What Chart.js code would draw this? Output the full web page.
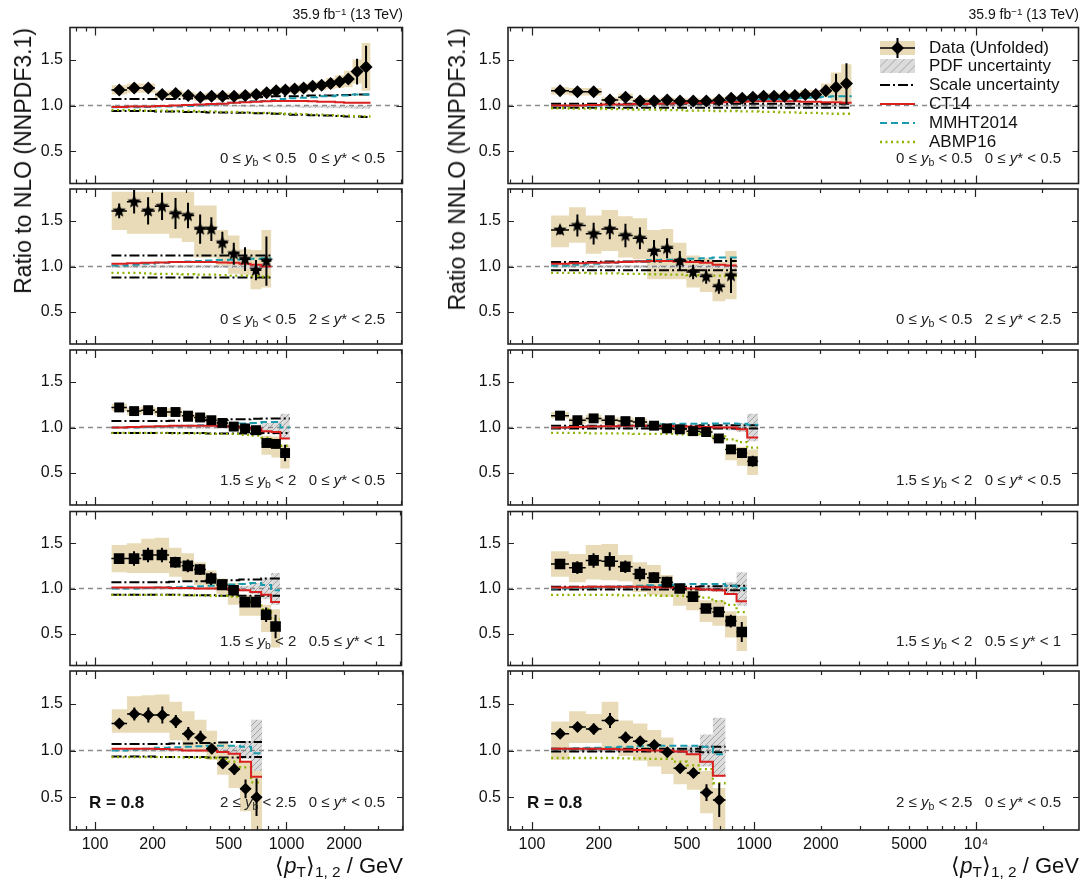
<!DOCTYPE html>
<html>
<head>
<meta charset="utf-8">
<script src="https://cdn.jsdelivr.net/npm/chart.js@4.4.0/dist/chart.umd.min.js"></script>
<style>
  body { margin: 0; background: #fff; }
  #page { position: relative; width: 1084px; height: 887px; overflow: hidden; font-family: "Liberation Sans", Arial, sans-serif; }
  #page canvas { position: absolute; }
  .txt { position: absolute; white-space: nowrap; color: #111; }
  .sb { font-size: 0.7em; vertical-align: -0.25em; }
  .sp { font-size: 0.7em; vertical-align: 0.45em; }
</style>
</head>
<body>
<div id="page"></div>
<script>
// bin edges of <pT>1,2 in GeV (shared by all panels)
const binEdges = [122, 147, 175, 206, 245, 285, 331, 382, 434, 498, 572, 653, 745, 840, 936, 1049, 1169, 1303, 1452, 1618, 1803, 2009, 2225, 2480, 2763];

// panels row by row: [left NLO, right NNLO]
const nBins = [24, 24, 13, 13, 15, 15, 14, 14, 12, 12];
const ybLo = ['0', '0', '1.5', '1.5', '2'];
const ybHi = ['0.5', '0.5', '2', '2', '2.5'];
const ysLo = ['0', '2', '0', '0.5', '0'];
const ysHi = ['0.5', '2.5', '0.5', '1', '0.5'];
const markerKind = ['diamond', 'star', 'square', 'square', 'diamond'];

const xTicksLeft = [100, 200, 500, 1000, 2000];
const xTicksRight = [100, 200, 500, 1000, 2000, 5000, 10000];
const yTicks = [0.5, 1.0, 1.5];

const ratio = [
  [1.17,1.19,1.19,1.12,1.13,1.11,1.09,1.10,1.10,1.10,1.11,1.12,1.14,1.16,1.17,1.18,1.19,1.21,1.22,1.24,1.26,1.29,1.37,1.42],
  [1.16,1.15,1.15,1.06,1.09,1.05,1.05,1.06,1.05,1.05,1.05,1.06,1.08,1.08,1.09,1.10,1.10,1.10,1.11,1.12,1.12,1.16,1.20,1.24],
  [1.61,1.71,1.61,1.66,1.58,1.56,1.41,1.41,1.26,1.14,1.08,0.96,1.06],
  [1.40,1.45,1.36,1.41,1.34,1.31,1.17,1.20,1.06,0.94,0.89,0.78,0.90],
  [1.22,1.18,1.19,1.17,1.17,1.13,1.11,1.08,1.05,1.01,0.99,0.97,0.83,0.82,0.72],
  [1.13,1.08,1.10,1.08,1.07,1.06,1.02,0.99,0.98,0.96,0.95,0.88,0.76,0.72,0.63],
  [1.33,1.33,1.37,1.37,1.29,1.25,1.21,1.11,1.04,0.98,0.85,0.85,0.71,0.58],
  [1.27,1.23,1.31,1.30,1.24,1.16,1.12,1.07,1.00,0.91,0.78,0.74,0.64,0.52],
  [1.29,1.39,1.38,1.38,1.31,1.18,1.14,1.02,0.86,0.80,0.59,0.50],
  [1.18,1.25,1.23,1.32,1.14,1.10,1.06,0.98,0.81,0.76,0.55,0.47]
];
const statErr = [
  [0.01,0.01,0.01,0.01,0.01,0.01,0.01,0.01,0.01,0.01,0.01,0.01,0.01,0.01,0.01,0.01,0.01,0.015,0.02,0.02,0.03,0.05,0.14,0.23],
  [0.01,0.01,0.01,0.01,0.01,0.01,0.01,0.01,0.01,0.01,0.01,0.01,0.01,0.01,0.01,0.01,0.01,0.015,0.02,0.02,0.03,0.06,0.145,0.22],
  [0.08,0.13,0.15,0.15,0.17,0.14,0.16,0.13,0.12,0.12,0.13,0.11,0.27],
  [0.05,0.12,0.12,0.11,0.13,0.12,0.12,0.11,0.11,0.08,0.08,0.08,0.19],
  [0.02,0.02,0.02,0.02,0.02,0.02,0.02,0.02,0.02,0.02,0.02,0.03,0.04,0.05,0.09],
  [0.02,0.02,0.02,0.02,0.02,0.02,0.02,0.02,0.02,0.02,0.02,0.03,0.03,0.04,0.06],
  [0.03,0.08,0.08,0.08,0.06,0.07,0.06,0.07,0.05,0.05,0.05,0.05,0.08,0.13],
  [0.03,0.07,0.08,0.10,0.07,0.08,0.06,0.06,0.04,0.04,0.05,0.05,0.07,0.11],
  [0.02,0.07,0.08,0.09,0.07,0.07,0.07,0.05,0.05,0.06,0.10,0.20],
  [0.02,0.05,0.06,0.08,0.06,0.05,0.05,0.04,0.05,0.05,0.09,0.18]
];
// total uncertainty box of the unfolded data
const bandLo = [
  [1.12,1.14,1.14,1.08,1.09,1.07,1.05,1.06,1.06,1.06,1.07,1.08,1.10,1.12,1.13,1.13,1.14,1.16,1.17,1.18,1.19,1.20,1.24,1.16],
  [1.12,1.11,1.11,1.03,1.05,1.02,1.02,1.03,1.02,1.02,1.02,1.03,1.05,1.05,1.06,1.06,1.06,1.06,1.07,1.07,1.07,1.09,1.05,1.03],
  [1.40,1.36,1.36,1.36,1.31,1.27,1.10,1.10,1.01,0.92,0.91,0.75,0.77],
  [1.21,1.26,1.14,1.17,1.10,1.08,0.86,0.86,0.86,0.77,0.72,0.62,0.64],
  [1.18,1.14,1.15,1.13,1.13,1.09,1.07,1.04,1.01,0.97,0.95,0.92,0.70,0.67,0.55],
  [1.10,1.04,1.06,1.04,1.04,1.03,0.99,0.95,0.94,0.93,0.91,0.84,0.64,0.58,0.48],
  [1.18,1.17,1.17,1.17,1.13,1.09,1.04,0.99,0.94,0.82,0.70,0.70,0.52,0.35],
  [1.13,1.07,1.10,1.09,1.08,0.96,0.93,0.91,0.81,0.76,0.63,0.59,0.46,0.31],
  [1.19,1.19,1.19,1.19,1.11,1.01,0.98,0.90,0.74,0.60,0.35,0.10],
  [0.90,1.08,1.08,1.02,0.94,0.89,0.83,0.75,0.64,0.58,0.33,0.14]
];
const bandHi = [
  [1.22,1.24,1.24,1.16,1.17,1.15,1.13,1.14,1.14,1.14,1.15,1.16,1.18,1.20,1.21,1.23,1.24,1.26,1.27,1.30,1.33,1.38,1.50,1.68],
  [1.20,1.19,1.19,1.09,1.13,1.08,1.08,1.09,1.08,1.08,1.08,1.09,1.11,1.11,1.12,1.14,1.14,1.14,1.15,1.17,1.17,1.24,1.36,1.45],
  [1.82,1.82,1.82,1.82,1.82,1.82,1.67,1.67,1.40,1.34,1.19,1.18,1.40],
  [1.56,1.65,1.56,1.62,1.55,1.53,1.40,1.41,1.26,1.12,1.09,1.05,1.17],
  [1.26,1.22,1.23,1.21,1.21,1.17,1.15,1.12,1.09,1.05,1.03,1.01,0.91,0.90,0.81],
  [1.17,1.11,1.14,1.11,1.11,1.10,1.06,1.02,1.01,1.00,0.99,0.92,0.81,0.79,0.76],
  [1.48,1.50,1.55,1.56,1.45,1.39,1.29,1.20,1.11,1.06,0.93,0.92,0.82,0.77],
  [1.41,1.38,1.48,1.49,1.37,1.29,1.26,1.15,1.05,0.99,0.87,0.87,0.75,0.70],
  [1.44,1.58,1.59,1.60,1.52,1.42,1.33,1.21,1.07,0.99,0.89,0.82],
  [1.31,1.42,1.39,1.52,1.32,1.29,1.22,1.14,0.99,0.96,0.78,0.60]
];
const ct14 = [
  [0.985,0.99,0.99,0.995,1.0,1.005,1.01,1.015,1.02,1.03,1.035,1.04,1.045,1.05,1.05,1.05,1.05,1.045,1.04,1.04,1.035,1.03,1.03,1.03],
  [1.0,1.0,1.005,1.01,1.01,1.015,1.02,1.02,1.025,1.03,1.03,1.035,1.04,1.04,1.045,1.045,1.045,1.045,1.045,1.04,1.04,1.035,1.035,1.03],
  [1.03,1.035,1.04,1.045,1.05,1.05,1.05,1.05,1.045,1.04,1.03,1.02,1.0],
  [1.03,1.035,1.04,1.045,1.05,1.055,1.06,1.06,1.055,1.05,1.04,1.02,1.01],
  [1.0,1.005,1.01,1.015,1.02,1.02,1.02,1.02,1.015,1.01,1.0,0.99,0.96,0.95,0.88],
  [1.0,1.005,1.01,1.015,1.02,1.02,1.02,1.02,1.015,1.01,1.005,1.0,1.0,0.98,0.89],
  [1.01,1.01,1.01,1.01,1.005,1.005,1.0,1.0,1.0,0.99,0.98,0.96,0.93,0.85],
  [1.01,1.015,1.02,1.02,1.02,1.02,1.015,1.01,1.005,1.0,0.99,0.98,0.94,0.86],
  [1.02,1.02,1.02,1.015,1.01,1.0,1.0,1.0,0.985,0.965,0.88,0.72],
  [1.02,1.02,1.02,1.015,1.01,1.005,1.0,1.0,0.99,0.96,0.88,0.73]
];
const mmht = [
  [0.98,0.98,0.985,0.99,0.99,0.995,1.0,1.01,1.02,1.03,1.04,1.045,1.05,1.06,1.07,1.08,1.085,1.09,1.10,1.10,1.11,1.11,1.12,1.12],
  [0.995,1.0,1.0,1.0,1.005,1.01,1.015,1.02,1.025,1.03,1.04,1.045,1.05,1.055,1.06,1.065,1.07,1.075,1.08,1.085,1.09,1.095,1.10,1.10],
  [1.01,1.02,1.03,1.04,1.05,1.055,1.06,1.065,1.07,1.075,1.08,1.085,1.09],
  [1.01,1.02,1.03,1.04,1.05,1.06,1.07,1.075,1.08,1.085,1.09,1.10,1.10],
  [1.0,1.0,1.005,1.01,1.015,1.02,1.025,1.03,1.035,1.04,1.045,1.05,1.06,1.06,1.0],
  [1.0,1.005,1.01,1.015,1.02,1.025,1.03,1.035,1.04,1.04,1.045,1.045,1.045,1.04,1.03],
  [1.0,1.0,1.005,1.01,1.015,1.02,1.025,1.03,1.04,1.045,1.05,1.06,1.04,0.98],
  [1.0,1.005,1.01,1.02,1.025,1.03,1.035,1.04,1.045,1.05,1.05,1.05,1.03,1.0],
  [1.0,1.01,1.02,1.03,1.035,1.04,1.045,1.05,1.05,1.05,1.04,0.97],
  [1.02,1.025,1.03,1.035,1.04,1.045,1.05,1.05,1.05,1.05,1.04,0.96]
];
const abmp = [
  [0.95,0.95,0.945,0.945,0.94,0.94,0.935,0.935,0.93,0.93,0.925,0.92,0.92,0.915,0.91,0.91,0.905,0.90,0.90,0.895,0.89,0.89,0.885,0.88],
  [0.97,0.965,0.965,0.96,0.96,0.955,0.955,0.95,0.95,0.945,0.945,0.94,0.94,0.935,0.935,0.93,0.93,0.925,0.925,0.92,0.92,0.915,0.91,0.91],
  [0.93,0.93,0.925,0.92,0.92,0.915,0.91,0.91,0.905,0.90,0.90,0.895,0.89],
  [0.93,0.93,0.925,0.925,0.92,0.92,0.915,0.91,0.91,0.905,0.90,0.90,0.895],
  [0.94,0.94,0.94,0.94,0.935,0.935,0.935,0.93,0.93,0.93,0.92,0.91,0.89,0.84,0.80],
  [0.94,0.94,0.935,0.935,0.935,0.93,0.93,0.93,0.925,0.925,0.92,0.90,0.87,0.84,0.78],
  [0.93,0.93,0.93,0.93,0.93,0.93,0.925,0.92,0.92,0.91,0.89,0.85,0.77,0.66],
  [0.93,0.93,0.93,0.93,0.925,0.925,0.925,0.92,0.92,0.91,0.90,0.86,0.82,0.74],
  [0.93,0.93,0.93,0.93,0.93,0.925,0.925,0.92,0.91,0.88,0.82,0.66],
  [0.92,0.92,0.92,0.92,0.915,0.915,0.91,0.91,0.88,0.84,0.80,0.65]
];
const scaleUp = [
  [1.07,1.07,1.07,1.07,1.07,1.075,1.075,1.08,1.08,1.085,1.09,1.09,1.095,1.10,1.10,1.10,1.105,1.11,1.11,1.11,1.115,1.115,1.12,1.12],
  [1.02,1.02,1.02,1.02,1.02,1.02,1.02,1.02,1.02,1.02,1.02,1.02,1.02,1.02,1.02,1.02,1.02,1.02,1.02,1.02,1.02,1.02,1.02,1.02],
  [1.12,1.12,1.12,1.12,1.12,1.12,1.12,1.12,1.12,1.12,1.12,1.12,1.12],
  [1.05,1.05,1.05,1.055,1.055,1.055,1.055,1.06,1.06,1.06,1.06,1.06,1.06],
  [1.07,1.07,1.07,1.07,1.075,1.075,1.08,1.08,1.085,1.09,1.09,1.095,1.10,1.10,1.10],
  [1.02,1.02,1.02,1.02,1.02,1.02,1.02,1.02,1.02,1.02,1.025,1.025,1.025,1.025,1.025],
  [1.07,1.07,1.07,1.07,1.075,1.08,1.08,1.085,1.09,1.09,1.10,1.10,1.11,1.11],
  [1.02,1.02,1.02,1.02,1.02,1.02,1.02,1.02,1.02,1.02,1.025,1.025,1.03,1.03],
  [1.07,1.07,1.07,1.07,1.075,1.075,1.08,1.08,1.085,1.09,1.09,1.09],
  [1.02,1.02,1.02,1.02,1.02,1.02,1.02,1.02,1.02,1.02,1.04,1.04]
];
const scaleDn = [
  [0.94,0.94,0.94,0.935,0.935,0.93,0.93,0.925,0.925,0.92,0.92,0.915,0.915,0.91,0.905,0.90,0.90,0.895,0.89,0.89,0.885,0.88,0.88,0.875],
  [0.975,0.975,0.975,0.975,0.975,0.975,0.975,0.975,0.975,0.975,0.975,0.975,0.975,0.975,0.975,0.975,0.975,0.975,0.975,0.975,0.975,0.975,0.975,0.975],
  [0.88,0.88,0.88,0.88,0.88,0.88,0.88,0.88,0.88,0.88,0.88,0.88,0.88],
  [0.96,0.96,0.96,0.96,0.96,0.96,0.96,0.96,0.96,0.96,0.96,0.96,0.96],
  [0.94,0.94,0.94,0.94,0.94,0.94,0.94,0.935,0.935,0.935,0.935,0.935,0.94,0.94,0.94],
  [0.99,0.99,0.99,0.99,0.99,0.99,0.99,0.99,0.99,0.99,0.99,0.99,0.99,0.99,0.99],
  [0.93,0.93,0.93,0.93,0.93,0.925,0.925,0.925,0.92,0.92,0.92,0.92,0.92,0.92],
  [0.99,0.99,0.99,0.99,0.99,0.99,0.99,0.99,0.99,0.99,0.99,0.99,0.98,0.98],
  [0.935,0.935,0.935,0.93,0.93,0.93,0.93,0.925,0.925,0.925,0.93,0.93],
  [0.99,0.99,0.99,0.99,0.99,0.99,0.99,0.99,0.99,0.99,0.98,0.98]
];
const pdfLo = [
  [0.99,0.99,0.99,0.99,0.99,0.99,0.99,0.99,0.99,0.99,0.985,0.985,0.985,0.98,0.98,0.98,0.975,0.975,0.975,0.97,0.97,0.97,0.965,0.965],
  [0.99,0.99,0.99,0.99,0.99,0.99,0.99,0.99,0.99,0.99,0.99,0.99,0.99,0.99,0.99,0.985,0.985,0.985,0.985,0.98,0.98,0.98,0.98,0.98],
  [0.985,0.985,0.985,0.985,0.985,0.985,0.985,0.985,0.985,0.985,0.98,0.98,0.975],
  [0.985,0.985,0.985,0.985,0.985,0.985,0.985,0.985,0.985,0.985,0.98,0.98,0.975],
  [0.99,0.99,0.99,0.99,0.99,0.99,0.99,0.99,0.99,0.99,0.98,0.97,0.95,0.92,0.88],
  [0.99,0.99,0.99,0.99,0.99,0.99,0.99,0.99,0.99,0.99,0.985,0.98,0.97,0.95,0.85],
  [0.99,0.99,0.99,0.99,0.99,0.99,0.99,0.99,0.99,0.98,0.97,0.94,0.88,0.82],
  [0.99,0.99,0.99,0.99,0.99,0.99,0.99,0.99,0.99,0.985,0.97,0.96,0.93,0.81],
  [0.99,0.99,0.99,0.99,0.99,0.99,0.99,0.98,0.97,0.95,0.91,0.78],
  [0.99,0.99,0.99,0.99,0.99,0.99,0.99,0.98,0.97,0.95,0.83,0.72]
];
const pdfHi = [
  [1.005,1.005,1.005,1.005,1.005,1.005,1.005,1.005,1.005,1.005,1.005,1.0,1.0,1.0,1.0,1.0,1.0,1.0,1.0,1.0,1.0,1.0,1.0,1.0],
  [1.01,1.01,1.01,1.01,1.01,1.01,1.01,1.01,1.01,1.01,1.01,1.01,1.01,1.01,1.01,1.015,1.015,1.015,1.015,1.02,1.02,1.02,1.02,1.02],
  [1.015,1.015,1.015,1.015,1.015,1.015,1.015,1.015,1.015,1.015,1.02,1.02,1.025],
  [1.015,1.015,1.015,1.015,1.015,1.015,1.015,1.015,1.015,1.015,1.02,1.02,1.025],
  [1.01,1.01,1.01,1.01,1.01,1.01,1.01,1.01,1.01,1.01,1.02,1.03,1.05,1.07,1.15],
  [1.01,1.01,1.01,1.01,1.01,1.01,1.01,1.01,1.01,1.01,1.015,1.02,1.03,1.05,1.15],
  [1.01,1.01,1.01,1.01,1.01,1.01,1.01,1.01,1.01,1.02,1.03,1.06,1.11,1.17],
  [1.01,1.01,1.01,1.01,1.01,1.01,1.01,1.01,1.01,1.015,1.03,1.04,1.07,1.18],
  [1.01,1.01,1.01,1.01,1.01,1.01,1.01,1.02,1.03,1.05,1.10,1.33],
  [1.01,1.01,1.01,1.01,1.01,1.01,1.01,1.02,1.03,1.05,1.17,1.35]
];

// ---- layout ----
const page = document.getElementById('page');
const colL = [70, 508], colR = [403, 1079];
const xMin = [74, 78], xMax = [4060, 29100];
const rowT = [25, 186, 347, 508, 669], rowH = 161;
const TAN = '#e9dbb7', RED = '#d9201f', TEAL = '#1a9bad', GREEN = '#8db300';

// hatch pattern for the PDF uncertainty
const hp = document.createElement('canvas');
hp.width = hp.height = 6;
const hg = hp.getContext('2d');
hg.fillStyle = '#dcdcdc'; hg.fillRect(0, 0, 6, 6);
hg.strokeStyle = '#a4a4a4'; hg.lineWidth = 1;
hg.beginPath(); hg.moveTo(0, 6); hg.lineTo(6, 0); hg.moveTo(-1, 1); hg.lineTo(1, -1); hg.moveTo(5, 7); hg.lineTo(7, 5); hg.stroke();
const hatch = hg.createPattern(hp, 'repeat');

// filled star marker
function starMarker(r) {
  const cv = document.createElement('canvas');
  const s = Math.ceil(2 * r + 2);
  cv.width = cv.height = s;
  const g = cv.getContext('2d');
  g.fillStyle = '#000';
  g.beginPath();
  for (let k = 0; k < 10; k++) {
    const rad = k % 2 ? r * 0.45 : r, a = -Math.PI / 2 + k * Math.PI / 5;
    g.lineTo(s / 2 + rad * Math.cos(a), s / 2 + rad * Math.sin(a));
  }
  g.closePath(); g.fill();
  return cv;
}
const starImg = starMarker(7);

function steps(n, vals) {
  return binEdges.slice(0, n + 1).map((e, i) => ({ x: e, y: vals[Math.min(i, n - 1)] }));
}

function addText(html, css) {
  const d = document.createElement('div');
  d.className = 'txt';
  d.innerHTML = html;
  Object.assign(d.style, css);
  page.appendChild(d);
  return d;
}

// frame and inward ticks, ROOT style
const framePlugin = {
  id: 'frame',
  afterDatasetsDraw(chart) {
    const { ctx, chartArea: a, scales: { x, y } } = chart;
    ctx.save();
    ctx.strokeStyle = '#222';
    ctx.lineWidth = 1.2;
    ctx.beginPath();
    for (let d = 10; d <= 100000; d *= 10) {
      for (let m = 1; m < 10; m++) {
        const v = m * d;
        if (v <= x.min || v >= x.max) continue;
        const px = Math.round(x.getPixelForValue(v)) + 0.5, len = m === 1 ? 8 : 4;
        ctx.moveTo(px, a.top); ctx.lineTo(px, a.top + len);
        ctx.moveTo(px, a.bottom); ctx.lineTo(px, a.bottom - len);
      }
    }
    yTicks.forEach(v => {
      const py = Math.round(y.getPixelForValue(v)) + 0.5;
      ctx.moveTo(a.left, py); ctx.lineTo(a.left + 6, py);
      ctx.moveTo(a.right, py); ctx.lineTo(a.right - 6, py);
    });
    ctx.stroke();
    ctx.lineWidth = 1.6;
    ctx.strokeRect(a.left, a.top, a.right - a.left, a.bottom - a.top);
    ctx.restore();
  }
};

for (let p = 0; p < 10; p++) {
  const r = Math.floor(p / 2), c = p % 2, n = nBins[p], last = r === 4;
  const ed = binEdges.slice(0, n + 1);
  const ctr = ed.slice(0, n).map((e, i) => Math.sqrt(e * ed[i + 1]));
  const vals = ratio[p], st = statErr[p];

  const cv = document.createElement('canvas');
  const w = colR[c] - colL[c] + 76, h = rowH + 4 + (last ? 34 : 4);
  cv.width = w; cv.height = h;
  cv.style.left = (colL[c] - 70) + 'px';
  cv.style.top = (rowT[r] - 4) + 'px';
  cv.style.width = w + 'px'; cv.style.height = h + 'px';
  page.appendChild(cv);

  const vErr = [], hErr = [];
  for (let i = 0; i < n; i++) {
    vErr.push({ x: ctr[i], y: vals[i] - st[i] }, { x: ctr[i], y: vals[i] + st[i] }, { x: ctr[i], y: null });
    hErr.push({ x: ed[i], y: vals[i] }, { x: ed[i + 1], y: vals[i] }, { x: ed[i + 1], y: null });
  }
  const kind = markerKind[r];
  const marker = kind === 'star' ? { pointStyle: starImg, pointRadius: 7 }
    : kind === 'square' ? { pointStyle: 'rect', pointRadius: r === 3 ? 7.5 : 7 }
    : { pointStyle: 'rectRot', pointRadius: r === 0 ? 6.5 : 6 };

  const stepLine = (vals2, color, dash, order, width) => ({
    data: steps(n, vals2), stepped: true, borderColor: color, borderDash: dash,
    borderWidth: width || 2, pointRadius: 0, fill: false, order
  });

  new Chart(cv, {
    type: 'line',
    data: {
      datasets: [
        { data: steps(n, bandLo[p]), stepped: true, borderWidth: 0, pointRadius: 0, fill: false, order: 10 },
        { data: steps(n, bandHi[p]), stepped: true, borderWidth: 0, pointRadius: 0, fill: '-1', backgroundColor: TAN, order: 10 },
        { data: steps(n, pdfLo[p]), stepped: true, borderWidth: 0, pointRadius: 0, fill: false, order: 9 },
        { data: steps(n, pdfHi[p]), stepped: true, borderWidth: 0, pointRadius: 0, fill: '-1', backgroundColor: hatch, order: 9 },
        { data: [{ x: xMin[c], y: 1 }, { x: xMax[c], y: 1 }], borderColor: '#8a8a8a', borderDash: [5, 4], borderWidth: 1.3, pointRadius: 0, order: 8 },
        stepLine(scaleUp[p], '#000', [10, 3, 2, 3], 6),
        stepLine(scaleDn[p], '#000', [10, 3, 2, 3], 6),
        stepLine(abmp[p], GREEN, [2, 3.5], 5, 2.3),
        stepLine(mmht[p], TEAL, [7, 4], 4),
        stepLine(ct14[p], RED, [], 3),
        { data: vErr, borderColor: '#000', borderWidth: 2, pointRadius: 0, spanGaps: false, order: 2 },
        { data: hErr, borderColor: '#000', borderWidth: 1.5, pointRadius: 0, spanGaps: false, order: 2 },
        Object.assign({ data: ctr.map((x, i) => ({ x, y: vals[i] })), showLine: false,
          pointBackgroundColor: '#000', pointBorderWidth: 0, order: 1 }, marker)
      ]
    },
    options: {
      responsive: false,
      animation: false,
      devicePixelRatio: 1,
      events: [],
      layout: { padding: { top: 4, right: 6, bottom: last ? 0 : 4, left: 0 } },
      plugins: { legend: { display: false }, tooltip: { enabled: false } },
      scales: {
        x: {
          type: 'logarithmic', min: xMin[c], max: xMax[c],
          display: last,
          grid: { display: false, drawTicks: false },
          border: { display: false },
          afterBuildTicks: s => { s.ticks = (c ? xTicksRight : xTicksLeft).map(v => ({ value: v })); },
          afterFit: s => {
            s.height = last ? 34 : 0;
            s.paddingLeft = 0; s.paddingRight = 0; s.paddingTop = 0; s.paddingBottom = 0;
          },
          ticks: {
            autoSkip: false, maxRotation: 0, padding: 5, color: '#111',
            font: { family: 'Liberation Sans', size: 16 },
            callback: v => (v === 10000 ? '10\u2074' : String(v))
          }
        },
        y: {
          type: 'linear', min: 0.15, max: 1.85,
          grid: { display: false, drawTicks: false },
          border: { display: false },
          afterBuildTicks: s => { s.ticks = yTicks.map(v => ({ value: v })); },
          afterFit: s => {
            s.width = 70;
            s.paddingLeft = 0; s.paddingRight = 0; s.paddingTop = 0; s.paddingBottom = 0;
          },
          ticks: {
            padding: 7, color: '#111',
            font: { family: 'Liberation Sans', size: 16 },
            callback: v => Number(v).toFixed(1)
          }
        }
      }
    },
    plugins: [framePlugin]
  });

  // bin label
  addText(ybLo[r] + ' \u2264 <i>y</i><span class="sb">b</span> &lt; ' + ybHi[r] +
    '&nbsp;&nbsp;&nbsp;' + ysLo[r] + ' \u2264 <i>y</i>* &lt; ' + ysHi[r],
    { right: (1084 - colR[c] + 18) + 'px', top: (rowT[r] + 124) + 'px', fontSize: '15px', lineHeight: '18px', color: '#222' });
  if (last) {
    addText('R = 0.8', { left: (colL[c] + 19) + 'px', top: (rowT[r] + 124) + 'px', fontSize: '17px', lineHeight: '20px', fontWeight: 'bold' });
  }
}

// column decorations
[0, 1].forEach(c => {
  addText('35.9 fb<span class="sp">\u22121</span> (13 TeV)', { right: (1084 - colR[c]) + 'px', top: '4px', fontSize: '14px', lineHeight: '16px' });
  addText('\u27e8<i>p</i><span class="sb">T</span>\u27e9<span class="sb">1, 2</span> / GeV', { right: (1084 - colR[c]) + 'px', top: '853px', fontSize: '22px', lineHeight: '26px' });
  addText(c ? 'Ratio to NNLO (NNPDF3.1)' : 'Ratio to NLO (NNPDF3.1)', {
    left: (c ? 444 : 10) + 'px', top: '28px', fontSize: '23px', lineHeight: '26px',
    transformOrigin: '0 0', transform: 'rotate(-90deg) translateX(-100%)'
  });
});

// legend (top right panel)
const legendNames = ['Data (Unfolded)', 'PDF uncertainty', 'Scale uncertainty', 'CT14', 'MMHT2014', 'ABMP16'];
const legendY = [48, 66, 85, 104, 123, 142];
legendNames.forEach((t, i) => addText(t, { left: '929px', top: (legendY[i] - 10) + 'px', fontSize: '17px', lineHeight: '20px' }));
const svgNS = 'http://www.w3.org/2000/svg';
const lg = document.createElement('div');
lg.style.cssText = 'position:absolute;left:876px;top:36px;width:46px;height:120px;';
lg.innerHTML =
  '<svg width="46" height="120" xmlns="' + svgNS + '">' +
  '<defs><pattern id="hp" width="6" height="6" patternUnits="userSpaceOnUse" patternTransform="rotate(45)">' +
  '<rect width="6" height="6" fill="#dcdcdc"/><line x1="0" y1="0" x2="0" y2="6" stroke="#a4a4a4" stroke-width="1.4"/></pattern></defs>' +
  '<rect x="4" y="5" width="35" height="14" fill="' + TAN + '"/>' +
  '<line x1="4" x2="39" y1="12" y2="12" stroke="#000" stroke-width="1.5"/>' +
  '<line x1="21.5" x2="21.5" y1="2" y2="22" stroke="#000" stroke-width="2"/>' +
  '<polygon points="21.5,5.5 28,12 21.5,18.5 15,12" fill="#000"/>' +
  '<rect x="4" y="23" width="35" height="14" fill="url(#hp)"/>' +
  '<line x1="4" x2="39" y1="49" y2="49" stroke="#000" stroke-width="2" stroke-dasharray="10 3 2 3"/>' +
  '<line x1="4" x2="39" y1="68" y2="68" stroke="' + RED + '" stroke-width="2"/>' +
  '<line x1="4" x2="39" y1="87" y2="87" stroke="' + TEAL + '" stroke-width="2" stroke-dasharray="7 4"/>' +
  '<line x1="4" x2="39" y1="106" y2="106" stroke="' + GREEN + '" stroke-width="2.3" stroke-dasharray="2 3.5"/>' +
  '</svg>';
page.appendChild(lg);
</script>
</body>
</html>
